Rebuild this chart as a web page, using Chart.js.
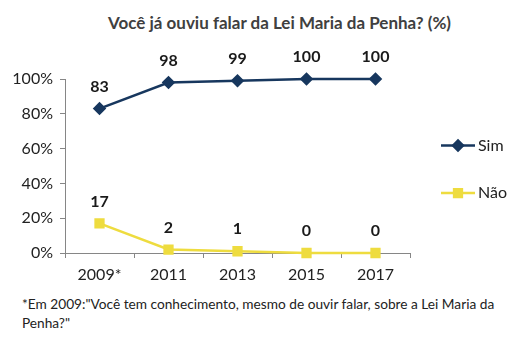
<!DOCTYPE html>
<html>
<head>
<meta charset="utf-8">
<script src="https://cdn.jsdelivr.net/npm/chart.js@4"></script>
<style>
  body { margin: 0; background: #fff; font-family: Lato, "Open Sans", sans-serif; }
  #wrap { position: relative; width: 519px; height: 346px; }
  #title { position: absolute; top: 12px; left: 20px; width: 519px; text-align: center;
           font-weight: bold; font-size: 17px; color: #404040; }
  #chart-box { position: absolute; left: 0; top: 0; width: 519px; height: 290px; }
  #note { position: absolute; left: 22px; top: 294px; width: 490px; font-size: 13.7px;
          line-height: 19px; color: #222; }
</style>
</head>
<body>
<div id="wrap">
  <div id="title">Você já ouviu falar da Lei Maria da Penha? (%)</div>
  <div id="chart-box"><canvas id="survey-chart"></canvas></div>
  <div id="note">*Em 2009:"Você tem conhecimento, mesmo de ouvir falar, sobre a Lei Maria da Penha?"</div>
</div>
<script>
const years = ["2009*", "2011", "2013", "2015", "2017"];
const simValues = [83, 98, 99, 100, 100];
const naoValues = [17, 2, 1, 0, 0];
const yTicks = [0, 20, 40, 60, 80, 100];

const navy = "#17375E";
const yellow = "#EEDC3F";

// value labels above each point + legend on the right
const labelsPlugin = {
    id: "valueLabels",
    afterDatasetsDraw(chart) {
        const ctx = chart.ctx;
        ctx.save();
        ctx.font = "bold 16px Lato, 'Open Sans', sans-serif";
        ctx.fillStyle = "#1a1a1a";
        ctx.textAlign = "center";
        ctx.textBaseline = "middle";
        chart.data.datasets.forEach((ds, i) => {
            chart.getDatasetMeta(i).data.forEach((pt, j) => {
                ctx.fillText(String(ds.data[j]), pt.x, pt.y - 22);
            });
        });

        // legend
        const area = chart.chartArea;
        const lx = area.right + 31;
        const items = [
            { text: "Sim", color: navy, style: "rectRot", r: 5, y: chart.scales.y.getPixelForValue(60) - 3 },
            { text: "Não", color: yellow, style: "rect", r: 5.5, y: chart.scales.y.getPixelForValue(35) + 1 }
        ];
        ctx.font = "16px Lato, 'Open Sans', sans-serif";
        ctx.textAlign = "left";
        items.forEach(it => {
            ctx.strokeStyle = it.color;
            ctx.lineWidth = 2.5;
            ctx.beginPath();
            ctx.moveTo(lx, it.y);
            ctx.lineTo(lx + 34, it.y);
            ctx.stroke();
            Chart.helpers.drawPoint(ctx, { pointStyle: it.style, radius: it.r, borderWidth: 1 }, lx + 17, it.y);
            ctx.fillStyle = it.color;
            ctx.fill();
            ctx.fillStyle = "#222";
            ctx.fillText(it.text, lx + 37, it.y);
        });
        ctx.restore();
    }
};

new Chart(document.getElementById("survey-chart").getContext("2d"), {
    type: "line",
    data: {
        labels: years,
        datasets: [{
            label: "Sim",
            data: simValues,
            borderColor: navy,
            backgroundColor: navy,
            borderWidth: 2.5,
            pointStyle: "rectRot",
            pointRadius: 5,
            pointHoverRadius: 5,
            tension: 0,
            clip: false
        }, {
            label: "Não",
            data: naoValues,
            borderColor: yellow,
            backgroundColor: yellow,
            borderWidth: 2.5,
            pointStyle: "rect",
            pointRadius: 5.5,
            pointHoverRadius: 5.5,
            tension: 0,
            clip: false
        }]
    },
    options: {
        responsive: true,
        maintainAspectRatio: false,
        animation: false,
        layout: { padding: { top: 79, right: 109, left: 0, bottom: 0 } },
        plugins: {
            legend: { display: false },
            tooltip: { enabled: false }
        },
        scales: {
            x: {
                offset: true,
                afterFit(scale) { scale.height = 37; },
                grid: { offset: true, drawOnChartArea: false, drawTicks: true, tickLength: 5, color: "#868686" },
                border: { color: "#868686" },
                ticks: { color: "#222", font: { size: 16, family: "Lato, 'Open Sans', sans-serif" }, padding: 7 }
            },
            y: {
                min: 0,
                max: 100,
                afterFit(scale) { scale.width = 65; },
                afterBuildTicks(scale) { scale.ticks = yTicks.map(v => ({ value: v })); },
                grid: { drawOnChartArea: false, drawTicks: true, tickLength: 5, color: "#868686" },
                border: { color: "#868686" },
                ticks: {
                    color: "#222",
                    padding: 7,
                    font: { size: 16, family: "Lato, 'Open Sans', sans-serif" },
                    callback: v => v + "%"
                }
            }
        }
    },
    plugins: [labelsPlugin]
});
</script>
</body>
</html>
